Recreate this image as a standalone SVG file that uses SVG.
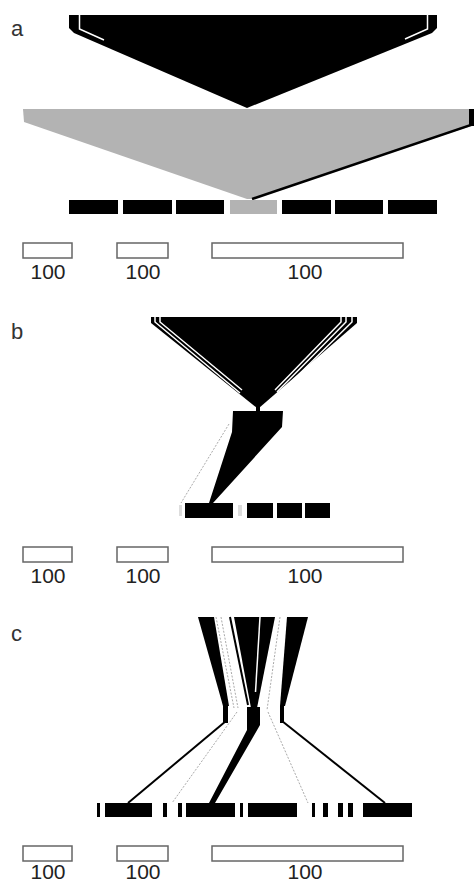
<svg xmlns="http://www.w3.org/2000/svg" width="474" height="884" viewBox="0 0 474 884">
<style>
.lbl{font-family:"Liberation Sans",Arial,sans-serif;font-size:22px;fill:#333}
.num{font-family:"Liberation Sans",Arial,sans-serif;font-size:21px;fill:#222;text-anchor:middle}
.scale{fill:#fff;stroke:#666;stroke-width:1.5}
.blk{fill:#000}
.gry{fill:#b3b3b3}
.wl{stroke:#fff;stroke-width:1.5;fill:none}
.dot{stroke:#aaa;stroke-width:1;stroke-dasharray:2 1.5;fill:none}
.ln{stroke:#000;fill:none}
</style>
<rect width="474" height="884" fill="#fff"/>

<g id="panel-a">
  <text class="lbl" x="11" y="36">a</text>
  <g id="a-top">
    <polygon class="blk" points="69,15 437,15 437,28 432,33 247,108 74,33 69,28"/>
    <polyline class="wl" points="79.5,15 79.5,29 104,40" stroke-width="1.2"/>
    <polyline class="wl" points="427.5,15 427.5,29 405,39" stroke-width="1.2"/>
  </g>
  <g id="a-gray">
    <polygon class="gry" points="23,109 474,109 474,125 251,199 247,199 24,122"/>
    <rect class="blk" x="469" y="109" width="5" height="17"/>
    <line class="ln" x1="474" y1="124" x2="252" y2="199" stroke-width="2.5"/>
  </g>
  <g id="a-bars">
    <rect class="blk" x="69" y="200" width="49" height="14"/>
    <rect class="blk" x="123" y="200" width="49" height="14"/>
    <rect class="blk" x="176" y="200" width="48" height="14"/>
    <rect class="gry" x="230" y="200" width="47" height="14"/>
    <rect class="blk" x="282" y="200" width="49" height="14"/>
    <rect class="blk" x="335" y="200" width="48" height="14"/>
    <rect class="blk" x="388" y="200" width="49" height="14"/>
  </g>
  <g id="a-scale">
    <rect class="scale" x="23" y="243" width="49" height="15"/>
    <rect class="scale" x="117" y="243" width="51" height="15"/>
    <rect class="scale" x="212" y="243" width="191" height="15"/>
    <text class="num" x="48" y="279">100</text>
    <text class="num" x="143" y="279">100</text>
    <text class="num" x="305" y="279">100</text>
  </g>
</g>

<g id="panel-b">
  <text class="lbl" x="11" y="339">b</text>
  <g id="b-top">
    <polygon class="blk" points="151,317 357,317 357,323 259,408 257,408 151,323"/>
    <polyline class="wl" points="155,317 155,322 240,393"/>
    <polyline class="wl" points="160,317 160,322 242,390"/>
    <polyline class="wl" points="341,317 341,322 275,390"/>
    <polyline class="wl" points="346,317 346,322 277,392"/>
    <polyline class="wl" points="352,317 352,322 279,394"/>
    <rect class="blk" x="256" y="406" width="4" height="6"/>
  </g>
  <g id="b-mid">
    <polygon class="blk" points="233,411 283,411 282,427 213,503 209,503 232,432"/>
    <line class="dot" x1="229" y1="424" x2="181" y2="503"/>
  </g>
  <g id="b-bars">
    <rect class="blk" x="185" y="503" width="48" height="15"/>
    <rect class="blk" x="247" y="503" width="26" height="15"/>
    <rect class="blk" x="277" y="503" width="25" height="15"/>
    <rect class="blk" x="305" y="503" width="25" height="15"/>
    <rect fill="#ddd" x="179" y="505" width="3" height="11"/>
    <rect fill="#ddd" x="238" y="505" width="4" height="11"/>
  </g>
  <g id="b-scale">
    <rect class="scale" x="23" y="547" width="49" height="15"/>
    <rect class="scale" x="117" y="547" width="51" height="15"/>
    <rect class="scale" x="212" y="547" width="191" height="15"/>
    <text class="num" x="48" y="583">100</text>
    <text class="num" x="143" y="583">100</text>
    <text class="num" x="305" y="583">100</text>
  </g>
</g>

<g id="panel-c">
  <text class="lbl" x="11" y="641">c</text>
  <g id="c-top">
    <polygon class="blk" points="198,617 214,617 229,706 223,706"/>
    <line class="dot" x1="216" y1="617" x2="234" y2="708"/>
    <line class="dot" x1="221" y1="617" x2="238" y2="708"/>
    <line class="ln" x1="230" y1="617" x2="248" y2="705" stroke-width="2"/>
    <polygon class="blk" points="234,617 275,617 257,708 251,708"/>
    <line class="wl" x1="260" y1="617" x2="255.5" y2="692"/>
    <line class="dot" x1="280" y1="617" x2="267" y2="710"/>
    <polygon class="blk" points="287,617 308,617 285,706 280,706"/>
  </g>
  <g id="c-mid">
    <rect class="blk" x="223" y="706" width="5" height="17"/>
    <line class="ln" x1="226" y1="721" x2="128" y2="803" stroke-width="2"/>
    <line class="dot" x1="237" y1="712" x2="172" y2="803"/>
    <polygon class="blk" points="247,707 260,707 260,725 215,803 209,803 247,730"/>
    <line class="dot" x1="268" y1="712" x2="308" y2="803"/>
    <rect class="blk" x="280" y="706" width="4" height="17"/>
    <line class="ln" x1="282" y1="721" x2="385" y2="803" stroke-width="2"/>
  </g>
  <g id="c-bars">
    <rect class="blk" x="97" y="803" width="3" height="14"/>
    <rect class="blk" x="105" y="803" width="47" height="14"/>
    <rect class="blk" x="163" y="803" width="4" height="14"/>
    <rect class="blk" x="178" y="803" width="4" height="14"/>
    <rect class="blk" x="186" y="803" width="49" height="14"/>
    <rect class="blk" x="240" y="803" width="3" height="14"/>
    <rect class="blk" x="248" y="803" width="49" height="14"/>
    <rect class="blk" x="312" y="803" width="3" height="14"/>
    <rect class="blk" x="323" y="803" width="5" height="14"/>
    <rect class="blk" x="338" y="803" width="5" height="14"/>
    <rect class="blk" x="348" y="803" width="5" height="14"/>
    <rect class="blk" x="363" y="803" width="49" height="14"/>
  </g>
  <g id="c-scale">
    <rect class="scale" x="23" y="846" width="49" height="15"/>
    <rect class="scale" x="117" y="846" width="51" height="15"/>
    <rect class="scale" x="212" y="846" width="191" height="15"/>
    <text class="num" x="48" y="879" font-size="20">100</text>
    <text class="num" x="143" y="879" font-size="20">100</text>
    <text class="num" x="305" y="879" font-size="20">100</text>
  </g>
</g>
</svg>
